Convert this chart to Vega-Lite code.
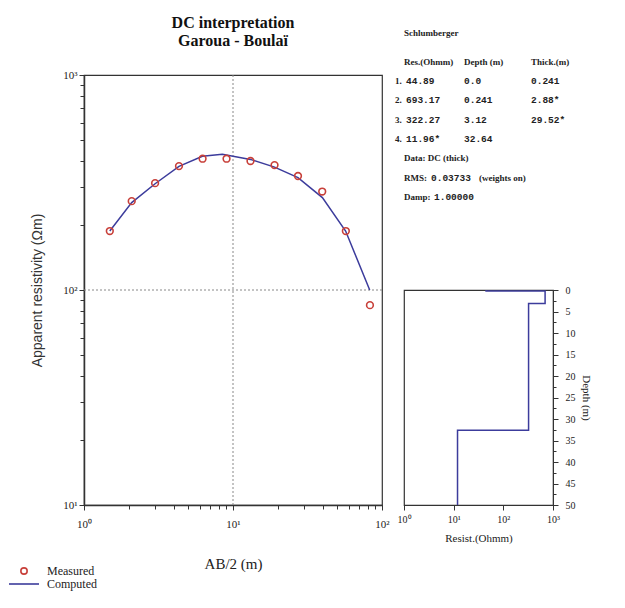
{
  "$schema": "https://vega.github.io/schema/vega-lite/v6.json",
  "padding": {"left": 18, "top": 14, "right": 5, "bottom": 5},
  "background": "white",
  "spacing": 5,
  "config": {
    "font": "Liberation Serif",
    "axis": {"grid": false, "domainColor": "#333", "tickColor": "#333", "labelColor": "#222", "titleColor": "#222", "labelFont": "Liberation Serif", "titleFont": "Liberation Serif"},
    "view": {"stroke": "#333", "strokeWidth": 1.2}
  },
  "datasets": {
    "measured": [
      {"ab2": 1.49, "rho": 188, "series": "Measured"},
      {"ab2": 2.09, "rho": 259, "series": "Measured"},
      {"ab2": 3.0, "rho": 314, "series": "Measured"},
      {"ab2": 4.34, "rho": 377, "series": "Measured"},
      {"ab2": 6.25, "rho": 408, "series": "Measured"},
      {"ab2": 9.05, "rho": 408, "series": "Measured"},
      {"ab2": 13.1, "rho": 398, "series": "Measured"},
      {"ab2": 19.0, "rho": 381, "series": "Measured"},
      {"ab2": 27.3, "rho": 339, "series": "Measured"},
      {"ab2": 39.7, "rho": 287, "series": "Measured"},
      {"ab2": 57.2, "rho": 188, "series": "Measured"},
      {"ab2": 83.0, "rho": 85, "series": "Measured"}
    ],
    "computed": [
      {"ab2": 1.49, "rho": 188, "series": "Computed", "i": 1},
      {"ab2": 2.09, "rho": 255, "series": "Computed", "i": 2},
      {"ab2": 3.0, "rho": 312, "series": "Computed", "i": 3},
      {"ab2": 4.34, "rho": 376, "series": "Computed", "i": 4},
      {"ab2": 6.23, "rho": 419, "series": "Computed", "i": 5},
      {"ab2": 8.48, "rho": 428, "series": "Computed", "i": 6},
      {"ab2": 13.1, "rho": 405, "series": "Computed", "i": 7},
      {"ab2": 19.0, "rho": 373, "series": "Computed", "i": 8},
      {"ab2": 27.3, "rho": 333, "series": "Computed", "i": 9},
      {"ab2": 39.8, "rho": 269, "series": "Computed", "i": 10},
      {"ab2": 57.0, "rho": 188, "series": "Computed", "i": 11},
      {"ab2": 82.7, "rho": 100, "series": "Computed", "i": 12}
    ],
    "model": [
      {"res": 44.89, "depth": 0, "k": 1},
      {"res": 44.89, "depth": 0.241, "k": 2},
      {"res": 693.17, "depth": 0.241, "k": 3},
      {"res": 693.17, "depth": 3.12, "k": 4},
      {"res": 322.27, "depth": 3.12, "k": 5},
      {"res": 322.27, "depth": 32.64, "k": 6},
      {"res": 11.96, "depth": 32.64, "k": 7},
      {"res": 11.96, "depth": 50, "k": 8}
    ],
    "txtSerif": [
      {"x": 0, "y": -42, "t": "Schlumberger"},
      {"x": 0, "y": -13, "t": "Res.(Ohmm)"},
      {"x": 60, "y": -13, "t": "Depth (m)"},
      {"x": 127, "y": -13, "t": "Thick.(m)"},
      {"x": -9, "y": 6, "t": "1."},
      {"x": -9, "y": 25, "t": "2."},
      {"x": -9, "y": 45, "t": "3."},
      {"x": -9, "y": 64, "t": "4."},
      {"x": 0, "y": 83, "t": "Data: DC (thick)"},
      {"x": 0, "y": 103, "t": "RMS:"},
      {"x": 75, "y": 103, "t": "(weights on)"},
      {"x": 0, "y": 122, "t": "Damp:"}
    ],
    "txtMono": [
      {"x": 2, "y": 6, "t": "44.89"},
      {"x": 60, "y": 6, "t": "0.0"},
      {"x": 127, "y": 6, "t": "0.241"},
      {"x": 2, "y": 25, "t": "693.17"},
      {"x": 60, "y": 25, "t": "0.241"},
      {"x": 127, "y": 25, "t": "2.88*"},
      {"x": 2, "y": 45, "t": "322.27"},
      {"x": 60, "y": 45, "t": "3.12"},
      {"x": 127, "y": 45, "t": "29.52*"},
      {"x": 2, "y": 64, "t": "11.96*"},
      {"x": 60, "y": 64, "t": "32.64"},
      {"x": 27, "y": 103, "t": "0.03733"},
      {"x": 30, "y": 122, "t": "1.00000"}
    ]
  },
  "hconcat": [
    {
      "width": 298,
      "height": 430,
      "title": {"text": ["DC interpretation", "Garoua - Boulaï"], "font": "Liberation Serif", "fontSize": 16, "fontWeight": "bold", "lineHeight": 18, "offset": 20, "anchor": "middle", "color": "#111"},
      "resolve": {"axis": {"x": "independent", "y": "independent"}},
      "layer": [
        {
          "data": {"values": [{"v": 10}]},
          "mark": {"type": "rule", "color": "#888", "strokeDash": [2, 2], "strokeWidth": 1},
          "encoding": {
            "x": {"field": "v", "type": "quantitative", "scale": {"type": "log", "domain": [1, 100], "nice": false},
              "axis": {"orient": "bottom", "values": [1, 10, 100], "labelExpr": "datum.value == 1 ? '10⁰' : datum.value == 10 ? '10¹' : '10²'", "tickSize": 5, "labelFontSize": 11, "labelPadding": 8, "title": "AB/2 (m)", "titleFontSize": 15, "titleFontWeight": "normal", "titlePadding": 27, "domainWidth": 1.5, "labelFlush": false}}
          }
        },
        {
          "data": {"values": [{"v": 100}]},
          "mark": {"type": "rule", "color": "#888", "strokeDash": [2, 2], "strokeWidth": 1},
          "encoding": {
            "y": {"field": "v", "type": "quantitative", "scale": {"type": "log", "domain": [10, 1000], "nice": false},
              "axis": {"orient": "left", "values": [10, 100, 1000], "labelExpr": "datum.value == 10 ? '10¹' : datum.value == 100 ? '10²' : '10³'", "tickSize": 5, "labelFontSize": 11, "labelPadding": 2, "title": "Apparent resistivity (Ωm)", "titleFont": "Liberation Sans", "titleFontSize": 14, "titleFontWeight": "normal", "titleColor": "#333", "titlePadding": 18, "domainWidth": 1.5}}
          }
        },
        {
          "data": {"name": "computed"},
          "mark": {"type": "line", "strokeWidth": 1.5},
          "encoding": {
            "x": {"field": "ab2", "type": "quantitative", "scale": {"type": "log", "domain": [1, 100], "nice": false},
              "axis": {"orient": "bottom", "values": [2, 3, 4, 5, 6, 7, 8, 9, 20, 30, 40, 50, 60, 70, 80, 90], "labels": false, "tickSize": 4, "domain": false, "title": null}},
            "y": {"field": "rho", "type": "quantitative", "scale": {"type": "log", "domain": [10, 1000], "nice": false},
              "axis": {"orient": "left", "values": [20, 30, 40, 50, 60, 70, 80, 90, 200, 300, 400, 500, 600, 700, 800, 900], "labels": false, "tickSize": 4, "domain": false, "title": null}},
            "order": {"field": "i", "type": "quantitative"},
            "color": {"field": "series", "type": "nominal", "scale": {"domain": ["Measured", "Computed"], "range": ["#c8403a", "#3c3c9c"]},
              "legend": {"orient": "none", "legendX": -66, "legendY": 490, "title": null, "labelFont": "Liberation Serif", "labelFontSize": 12, "labelColor": "#222", "symbolSize": 900, "labelOffset": 17, "rowPadding": -10,
                "encode": {"symbols": {"update": {
                  "shape": {"signal": "datum.value === 'Computed' ? 'stroke' : 'circle'"},
                  "size": {"signal": "datum.value === 'Computed' ? 900 : 40"},
                  "fill": {"value": "transparent"},
                  "strokeWidth": {"value": 1.6}
                }}}}}
          }
        },
        {
          "data": {"name": "measured"},
          "mark": {"type": "point", "filled": false, "size": 45, "strokeWidth": 1.6, "opacity": 1},
          "encoding": {
            "x": {"field": "ab2", "type": "quantitative", "axis": null},
            "y": {"field": "rho", "type": "quantitative", "axis": null},
            "color": {"field": "series", "type": "nominal"}
          }
        }
      ]
    },
    {
      "bounds": "flush",
      "spacing": 85,
      "vconcat": [
        {
          "width": 200,
          "height": 130,
          "view": {"stroke": null},
          "layer": [
            {
              "data": {"name": "txtSerif"},
              "mark": {"type": "text", "align": "left", "baseline": "middle", "font": "Liberation Serif", "fontSize": 9, "fontWeight": "bold", "color": "#222"},
              "encoding": {
                "x": {"field": "x", "type": "quantitative", "scale": {"domain": [0, 200], "nice": false, "zero": false}, "axis": null},
                "y": {"field": "y", "type": "quantitative", "scale": {"domain": [0, 130], "nice": false, "zero": false, "reverse": true}, "axis": null},
                "text": {"field": "t"}
              }
            },
            {
              "data": {"name": "txtMono"},
              "mark": {"type": "text", "align": "left", "baseline": "middle", "font": "Liberation Mono", "fontSize": 9.5, "fontWeight": "bold", "color": "#222"},
              "encoding": {
                "x": {"field": "x", "type": "quantitative", "axis": null},
                "y": {"field": "y", "type": "quantitative", "axis": null},
                "text": {"field": "t"}
              }
            }
          ]
        },
        {
          "width": 149,
          "height": 215,
          "resolve": {"axis": {"y": "independent"}},
          "layer": [
            {
              "data": {"name": "model"},
              "mark": {"type": "line", "color": "#3c3c9c", "strokeWidth": 1.5},
              "encoding": {
                "x": {"field": "res", "type": "quantitative", "scale": {"type": "log", "domain": [1, 1000], "nice": false},
                  "axis": {"values": [1, 10, 100, 1000], "labelExpr": "datum.value == 1 ? '10⁰' : datum.value == 10 ? '10¹' : datum.value == 100 ? '10²' : '10³'", "tickSize": 5, "labelFontSize": 10, "labelPadding": 4, "title": "Resist.(Ohmm)", "titleFontSize": 11, "titleFontWeight": "normal", "titlePadding": 8, "labelFlush": false}},
                "y": {"field": "depth", "type": "quantitative", "scale": {"domain": [0, 50], "nice": false, "reverse": true},
                  "axis": {"orient": "right", "values": [0, 5, 10, 15, 20, 25, 30, 35, 40, 45, 50], "tickSize": 5, "labelFontSize": 10, "labelPadding": 7, "title": "Depth (m)", "titleAngle": 90, "titleFontSize": 11, "titleFontWeight": "normal", "titlePadding": 5}},
                "order": {"field": "k", "type": "quantitative"}
              }
            },
            {
              "data": {"name": "model"},
              "mark": {"type": "point", "opacity": 0},
              "encoding": {
                "x": {"field": "res", "type": "quantitative"},
                "y": {"field": "depth", "type": "quantitative",
                  "axis": {"orient": "right", "values": [2.5, 7.5, 12.5, 17.5, 22.5, 27.5, 32.5, 37.5, 42.5, 47.5], "labels": false, "tickSize": 3, "domain": false, "title": null}}
              }
            }
          ]
        }
      ]
    }
  ]
}
